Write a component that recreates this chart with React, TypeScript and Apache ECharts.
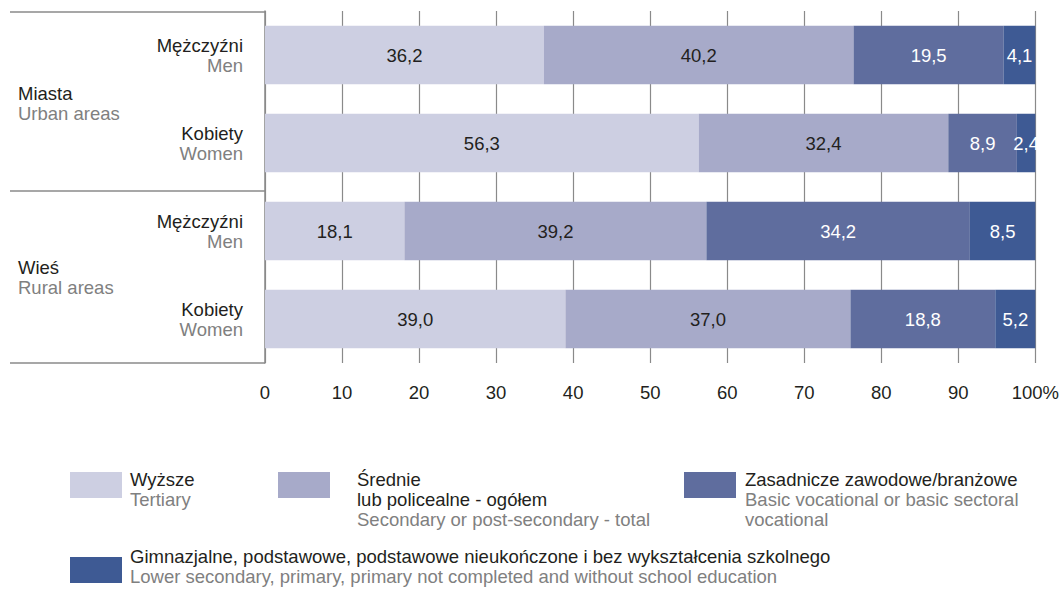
import React, { useEffect, useRef } from "react";
import * as echarts from "echarts";

const rowPl = ["Mężczyźni", "Kobiety", "Mężczyźni", "Kobiety"];
const rowEn = ["Men", "Women", "Men", "Women"];
const rowKeys = ["urban-men", "urban-women", "rural-men", "rural-women"];
const groupPl = ["Miasta", "Wieś"];
const groupEn = ["Urban areas", "Rural areas"];

const tertiary = [36.2, 56.3, 18.1, 39.0];
const secondary = [40.2, 32.4, 39.2, 37.0];
const basicVoc = [19.5, 8.9, 34.2, 18.8];
const lower = [4.1, 2.4, 8.5, 5.2];

const seriesNamesPl = [
  ["Wyższe"],
  ["Średnie", "lub policealne - ogółem"],
  ["Zasadnicze zawodowe/branżowe"],
  ["Gimnazjalne, podstawowe, podstawowe nieukończone i bez wykształcenia szkolnego"],
];
const seriesNamesEn = [
  ["Tertiary"],
  ["Secondary or post-secondary - total"],
  ["Basic vocational or basic sectoral", "vocational"],
  ["Lower secondary, primary, primary not completed and without school education"],
];
const xTicks = [0, 10, 20, 30, 40, 50, 60, 70, 80, 90, 100];

const colors = ["#cdcfe2", "#a7aac9", "#5f6d9e", "#3e5a94"];
const labelColors = ["#231f20", "#231f20", "#ffffff", "#ffffff"];
const FONT = "'Liberation Sans', Arial, sans-serif";
const FS = 18.5;
const DARK = "#231f20";
const GRAY = "#808080";
const LINE = "#8a8a8a";

export default function App() {
  const ref = useRef<HTMLDivElement>(null);
  useEffect(() => {
    if (!ref.current) return;
    const chart = echarts.init(ref.current, null, { renderer: "svg" });
    const gridLeft = 265;
    const gridTop = 11;
    const gridH = 352;
    const dataSets = [tertiary, secondary, basicVoc, lower];
    const fmt = (v: number) => v.toFixed(1).replace(".", ",");

    const boxLine = (y: number) => ({
      type: "line",
      shape: { x1: 10, y1: y, x2: gridLeft, y2: y },
      style: { stroke: LINE, lineWidth: 1.5 },
    });

    const lineText = (x: number, y: number, text: string, fill: string) => ({
      type: "text",
      x,
      y,
      style: { text, fill, fontSize: FS, fontFamily: FONT, verticalAlign: "middle" },
    });

    const STEP = 20;
    const legendItems = [
      { x: 70, y: 472, tx: 130, ty: 479 },
      { x: 278, y: 472, tx: 357, ty: 479 },
      { x: 684, y: 472, tx: 745, ty: 479 },
      { x: 70, y: 557, tx: 130, ty: 556 },
    ];
    const legendGraphics: any[] = [];
    legendItems.forEach((it, i) => {
      legendGraphics.push({
        type: "rect",
        shape: { x: it.x, y: it.y, width: 52, height: 26 },
        style: { fill: colors[i] },
      });
      let k = 0;
      seriesNamesPl[i].forEach((t) => {
        legendGraphics.push(lineText(it.tx, it.ty + STEP * k, t, DARK));
        k++;
      });
      seriesNamesEn[i].forEach((t) => {
        legendGraphics.push(lineText(it.tx, it.ty + STEP * k, t, GRAY));
        k++;
      });
    });

    const groupY = [93, 267];
    const groupGraphics: any[] = [];
    groupPl.forEach((g, i) => {
      groupGraphics.push(lineText(18, groupY[i], g, DARK));
      groupGraphics.push(lineText(18, groupY[i] + STEP, groupEn[i], GRAY));
    });

    chart.setOption({
      animation: false,
      textStyle: { fontFamily: FONT },
      grid: { left: gridLeft, top: gridTop, height: gridH, right: 21 },
      xAxis: {
        type: "value",
        min: 0,
        max: 100,
        interval: 10,
        axisLine: { show: false },
        axisTick: { show: false },
        splitLine: { show: true, lineStyle: { color: LINE, width: 1.2 } },
        axisLabel: {
          color: DARK,
          fontSize: FS,
          fontFamily: FONT,
          margin: 20,
          formatter: (v: number) => (v === 100 ? "100%" : String(v)),
          customValues: xTicks,
        },
      },
      yAxis: {
        type: "category",
        inverse: true,
        data: rowKeys,
        axisTick: { show: false },
        axisLine: { show: true, lineStyle: { color: LINE, width: 1.5 } },
        axisLabel: {
          margin: 22,
          align: "right",
          formatter: (_v: string, idx: number) => `{a|${rowPl[idx]}}\n{b|${rowEn[idx]}}`,
          rich: {
            a: { color: DARK, fontSize: FS, fontFamily: FONT, lineHeight: STEP, align: "right" },
            b: { color: GRAY, fontSize: FS, fontFamily: FONT, lineHeight: STEP, align: "right" },
          },
        },
      },
      series: dataSets.map((d, i) => ({
        type: "bar",
        name: seriesNamesEn[i].join(" "),
        stack: "total",
        data: d,
        barCategoryGap: "33.5%",
        itemStyle: { color: colors[i] },
        label: {
          show: true,
          position: "inside",
          color: labelColors[i],
          fontSize: FS,
          fontFamily: FONT,
          formatter: (p: any) => fmt(p.value),
        },
      })),
      graphic: [boxLine(12), boxLine(191), boxLine(363), ...groupGraphics, ...legendGraphics],
    });
    return () => chart.dispose();
  }, []);
  return (
    <div
      ref={ref}
      style={{ position: "fixed", left: 0, top: 0, width: 1062, height: 589, background: "#fff" }}
    />
  );
}
